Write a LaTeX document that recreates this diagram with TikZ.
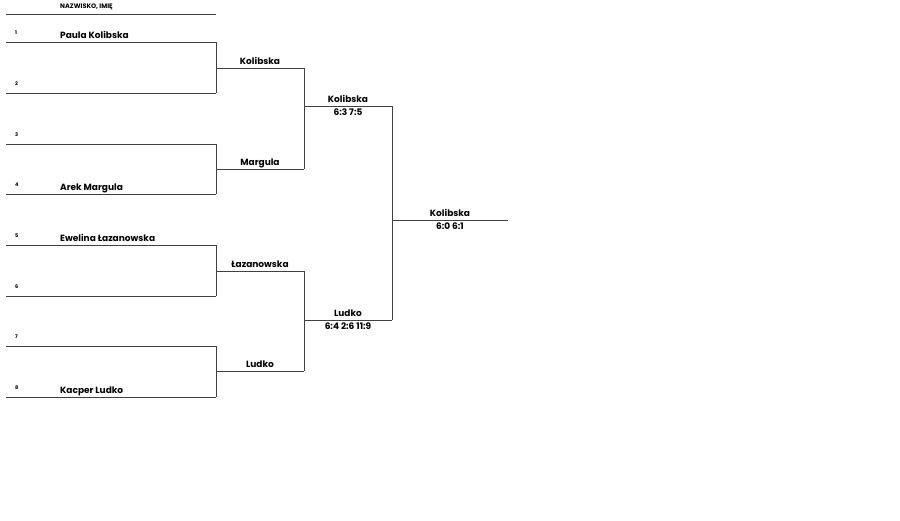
\documentclass[tikz,border=0pt]{standalone}
\usepackage{fontspec}
\setmainfont{Poppins}
\tikzset{
	bracket/.style={line width=0.7pt, black!75},
	seed/.style={font=\bfseries\fontsize{5}{6}\selectfont, text=black, anchor=base west, inner sep=0pt},
	player/.style={font=\bfseries\fontsize{9}{10}\selectfont, text=black, anchor=base west, inner sep=0pt},
	winner/.style={font=\bfseries\fontsize{9}{10}\selectfont, text=black, midway, anchor=base, inner sep=0pt, yshift=3.5pt},
	score/.style={font=\bfseries\fontsize{9}{10}\selectfont, text=black, midway, anchor=base, inner sep=0pt, yshift=-10pt},
}

\begin{document}
\begin{tikzpicture}[x=1pt, y=-1pt]
		\useasboundingbox (0,0) rectangle (900,521);
		% header
		\coordinate (h1) at (6,14);
		\coordinate (h2) at (216,14);
		\draw [bracket] (h1) -- (h2);
		\node [seed, font=\bfseries\fontsize{6.5}{7}\selectfont] (head) at (60,9) {NAZWISKO, IMIĘ};
		% first round
		\foreach \i/\y in {1/42,2/93,3/144,4/194,5/245,6/296,7/346,8/397} {
			\coordinate (s\i) at (6,\y);
			\coordinate (e\i) at (216,\y);
			\draw [bracket] (s\i) -- (e\i);
			\node [seed] (n\i) at (15,{\y-7.5}) {\i};
		}
		\node [player] (p1) at (60,38.5) {Paula Kolibska};
		\node [player] (p4) at (60,190.5) {Arek Margula};
		\node [player] (p5) at (60,241.5) {Ewelina Łazanowska};
		\node [player] (p8) at (60,393.5) {Kacper Ludko};
		% second round
		\coordinate (m1) at (304,68);
		\coordinate (m2) at (304,169);
		\coordinate (m3) at (304,271);
		\coordinate (m4) at (304,371);
		\draw [bracket] (e1) -- (e2);
		\draw [bracket] (e3) -- (e4);
		\draw [bracket] (e5) -- (e6);
		\draw [bracket] (e7) -- (e8);
		\draw [bracket] (e1 |- m1) -- node [winner] {Kolibska} (m1);
		\draw [bracket] (e3 |- m2) -- node [winner] {Margula} (m2);
		\draw [bracket] (e5 |- m3) -- node [winner] {Łazanowska} (m3);
		\draw [bracket] (e7 |- m4) -- node [winner] {Ludko} (m4);
		% semifinals
		\coordinate (t1) at (392,106);
		\coordinate (t2) at (392,320);
		\draw [bracket] (m1) -- (m2);
		\draw [bracket] (m3) -- (m4);
		\draw [bracket] (m1 |- t1) -- node [winner] {Kolibska} node [score] {6:3 7:5} (t1);
		\draw [bracket] (m3 |- t2) -- node [winner] {Ludko} node [score] {6:4 2:6 11:9} (t2);
		% final
		\coordinate (f) at (508,220);
		\draw [bracket] (t1) -- (t2);
		\draw [bracket] (t1 |- f) -- node [winner] {Kolibska} node [score] {6:0 6:1} (f);
\end{tikzpicture}
\end{document}
